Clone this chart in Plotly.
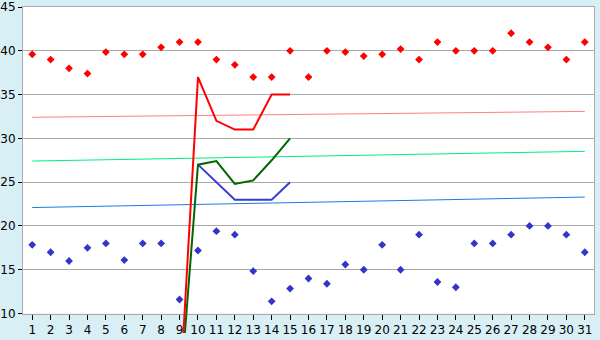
import plotly.graph_objects as go

days = list(range(1, 32))

red_points = [39.6, 39.0, 38.0, 37.4, 39.85, 39.6, 39.6, 40.4, 41.0, 41.0,
              39.0, 38.4, 37.0, 37.0, 40.0, 37.0, 40.0, 39.85, 39.4, 39.6,
              40.2, 39.0, 41.0, 40.0, 40.0, 40.0, 42.0, 41.0, 40.4, 39.0, 41.0]
blue_points = [17.85, 17.0, 16.0, 17.5, 18.0, 16.1, 18.0, 18.0, 11.6, 17.2,
               19.4, 19.0, 14.85, 11.4, 12.85, 14.0, 13.4, 15.6, 15.0, 17.85,
               15.0, 19.0, 13.6, 13.0, 18.0, 18.0, 19.0, 20.0, 20.0, 19.0, 17.0]

line_days = [9, 10, 11, 12, 13, 14, 15]
red_line = [0, 37.0, 32.0, 31.0, 31.0, 35.0, 35.0]
green_line = [0, 27.0, 27.4, 24.8, 25.2, 27.5, 30.0]
blue_line = [None, 27.0, 25.0, 23.0, 23.0, 23.0, 25.0]

trend_days = [1, 31]
red_trend = [32.41, 33.08]
green_trend = [27.41, 28.52]
blue_trend = [22.1, 23.3]

y_ticks = [10, 15, 20, 25, 30, 35, 40, 45]

W, H = 600, 340
top_px, bottom_px = 5, 320
y_min, y_max = 10, 45
px_per_unit = (bottom_px - top_px) / (y_max - y_min)
plot_h = H - top_px
y_dom_bottom = (H - bottom_px) / plot_h
y2_min = y_min - (H - bottom_px) / px_per_unit

BG = "#d9eff6"

fig = go.Figure()

fig.add_trace(go.Scatter(x=trend_days, y=red_trend, mode="lines",
                         line=dict(color="#ff8080", width=1), xaxis="x", yaxis="y"))
fig.add_trace(go.Scatter(x=trend_days, y=green_trend, mode="lines",
                         line=dict(color="#00ee80", width=1), xaxis="x", yaxis="y"))
fig.add_trace(go.Scatter(x=trend_days, y=blue_trend, mode="lines",
                         line=dict(color="#1a7ae6", width=1), xaxis="x", yaxis="y"))

fig.add_trace(go.Scatter(x=days, y=red_points, mode="markers",
                         marker=dict(symbol="diamond", size=6, color="#ff0000"),
                         xaxis="x", yaxis="y"))
fig.add_trace(go.Scatter(x=days, y=blue_points, mode="markers",
                         marker=dict(symbol="diamond", size=6, color="#3434cc"),
                         xaxis="x", yaxis="y"))

fig.add_trace(go.Scatter(x=line_days, y=blue_line, mode="lines",
                         line=dict(color="#3a3ad8", width=2), xaxis="x2", yaxis="y2"))
fig.add_trace(go.Scatter(x=line_days, y=green_line, mode="lines",
                         line=dict(color="#006600", width=2), xaxis="x2", yaxis="y2"))
fig.add_trace(go.Scatter(x=line_days, y=red_line, mode="lines",
                         line=dict(color="#ff0000", width=2), xaxis="x2", yaxis="y2"))

fig.add_shape(type="rect", xref="x domain", yref="y domain", x0=0, x1=1, y0=0, y1=1,
              fillcolor="#ffffff", line=dict(width=0), layer="below")

fig.update_layout(
    width=W, height=H,
    margin=dict(l=20, r=6, t=top_px, b=0),
    paper_bgcolor=BG,
    plot_bgcolor="rgba(0,0,0,0)",
    showlegend=False,
    font=dict(family="DejaVu Sans", size=12, color="#000000"),
    xaxis=dict(range=[0.5, 31.5], tickvals=days, ticktext=[str(d) for d in days],
               domain=[0, 1],
               showgrid=False, zeroline=False, showline=True, linecolor="#aaaaaa",
               linewidth=1, mirror=True, ticks="outside", ticklen=5, tickcolor="#000000",
               tickfont=dict(size=12), anchor="y"),
    yaxis=dict(range=[y_min, y_max], tickvals=y_ticks, domain=[y_dom_bottom, 1],
               showgrid=True, gridcolor="#aaaaaa", gridwidth=1, zeroline=False,
               showline=True, linecolor="#aaaaaa", linewidth=1, mirror=True,
               ticks="outside", ticklen=4, tickcolor="#000000", tickfont=dict(size=12),
               ticklabeloverflow="allow", anchor="x"),
    xaxis2=dict(range=[0.5, 31.5], domain=[0, 1], visible=False, anchor="y2"),
    yaxis2=dict(range=[y2_min, y_max], domain=[0, 1], visible=False, anchor="x2"),
)

fig.write_html("out.html")
